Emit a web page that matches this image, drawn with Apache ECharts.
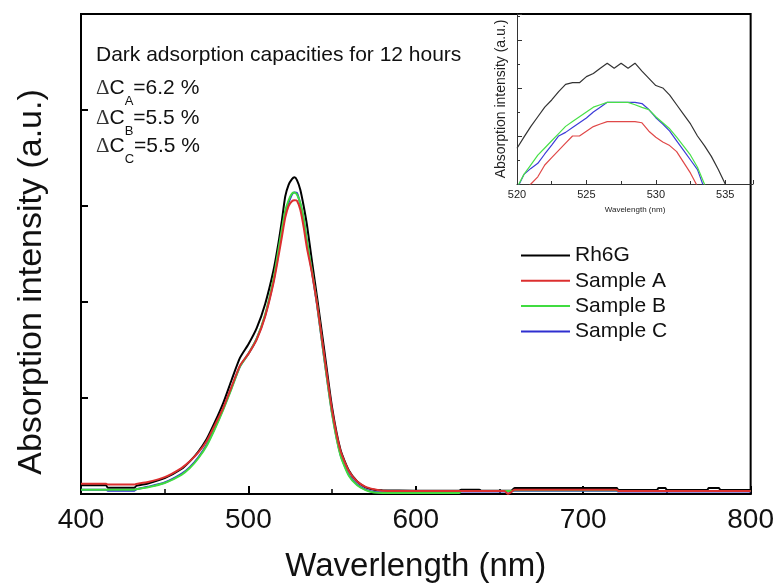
<!DOCTYPE html>
<html><head><meta charset="utf-8">
<script src="https://cdn.jsdelivr.net/npm/echarts@6.0.0/dist/echarts.min.js"></script>
<style>html,body{margin:0;padding:0;background:#fff}#c{width:777px;height:588px}</style>
</head><body><div id="c"></div>
<script>
// ---------- data ----------
const seriesNames = ['Rh6G', 'Sample A', 'Sample B', 'Sample C'];
const mainTickLabels = [400, 500, 600, 700, 800];
const insetTickLabels = [520, 525, 530, 535];

const mainWavelength = [400, 415, 416, 432, 433, 440, 450, 460, 465, 470, 475, 480, 485, 490, 495, 500, 505, 510, 515, 518,
  520, 522, 524, 526, 527.5, 529, 531, 533, 535, 538, 541, 545, 550, 555, 560, 565, 570, 575, 580, 600,
  626, 627, 638, 639, 653, 655, 657, 659, 720, 721, 744, 745, 749, 750, 774, 775, 781, 782, 800];

const rh6gMain = [0.09, 0.09, 0.065, 0.065, 0.085, 0.11, 0.165, 0.26, 0.34, 0.44, 0.57, 0.75, 0.95, 1.19, 1.42, 1.56, 1.73, 1.98, 2.33, 2.62,
  2.85, 3.1, 3.22, 3.28, 3.30, 3.27, 3.17, 3.0, 2.8, 2.42, 2.05, 1.54, 0.9, 0.46, 0.245, 0.13, 0.07, 0.045, 0.038, 0.035,
  0.035, 0.045, 0.045, 0.035, 0.035, 0.035, 0.035, 0.062, 0.062, 0.042, 0.042, 0.062, 0.062, 0.042, 0.042, 0.062, 0.062, 0.042, 0.042];

const sampleAMain = [0.107, 0.107, 0.1, 0.1, 0.105, 0.125, 0.175, 0.27, 0.34, 0.43, 0.55, 0.72, 0.9, 1.12, 1.34, 1.46, 1.61, 1.85, 2.2, 2.48,
  2.68, 2.88, 3.0, 3.05, 3.06, 3.055, 2.96, 2.78, 2.56, 2.3, 1.98, 1.48, 0.87, 0.45, 0.24, 0.13, 0.075, 0.05, 0.035, 0.03,
  0.03, 0.03, 0.03, 0.03, 0.03, 0.0, 0.02, 0.045, 0.045, 0.03, 0.03, 0.03, 0.03, 0.03, 0.03, 0.03, 0.03, 0.03, 0.03];

const sampleBMain = [0.045, 0.045, 0.045, 0.045, 0.05, 0.07, 0.115, 0.2, 0.27, 0.37, 0.5, 0.68, 0.88, 1.1, 1.33, 1.46, 1.62, 1.87, 2.24, 2.55,
  2.76, 2.95, 3.06, 3.13, 3.14, 3.119, 3.03, 2.87, 2.63, 2.32, 1.98, 1.45, 0.83, 0.4, 0.19, 0.09, 0.04, 0.015, 0.01, 0.01,
  0.01, 0.03, 0.03, 0.03, 0.03, 0.03, 0.03, 0.04, 0.04, 0.03, 0.03, 0.03, 0.03, 0.03, 0.03, 0.03, 0.03, 0.03, 0.03];

const sampleCMain = [0.045, 0.045, 0.035, 0.035, 0.05, 0.075, 0.12, 0.21, 0.28, 0.38, 0.51, 0.69, 0.89, 1.11, 1.33, 1.46, 1.62, 1.86, 2.22, 2.52,
  2.73, 2.925, 3.035, 3.12, 3.14, 3.135, 3.02, 2.86, 2.62, 2.31, 1.97, 1.45, 0.84, 0.41, 0.2, 0.1, 0.045, 0.02, 0.015, 0.015,
  0.015, 0.025, 0.025, 0.025, 0.025, 0.025, 0.025, 0.035, 0.035, 0.025, 0.025, 0.025, 0.025, 0.025, 0.025, 0.025, 0.025, 0.025, 0.025];

const insetWavelength = [520, 520.5, 521, 521.5, 522, 522.5, 523, 523.5, 524, 524.5, 525, 525.5, 526, 526.5, 527, 527.5,
  528, 528.5, 529, 529.5, 530, 530.5, 531, 531.5, 532, 532.5, 533, 533.5, 534, 534.5, 535, 535.5, 536];

const rh6gInset = [2.949, 2.995, 3.04, 3.08, 3.12, 3.15, 3.185, 3.215, 3.222, 3.222, 3.247, 3.26, 3.282, 3.303, 3.282, 3.303,
  3.282, 3.303, 3.27, 3.24, 3.21, 3.2, 3.17, 3.13, 3.09, 3.05, 3.0, 2.96, 2.915, 2.86, 2.8, 2.74, 2.68];
const sampleAInset = [2.74, 2.77, 2.80, 2.83, 2.879, 2.91, 2.94, 2.97, 3.0, 3.0, 3.02, 3.039, 3.05, 3.06, 3.06, 3.06,
  3.06, 3.06, 3.055, 3.02, 2.995, 2.975, 2.96, 2.935, 2.89, 2.845, 2.79, 2.73, 2.67, 2.61, 2.55, 2.49, 2.43];
const sampleBInset = [2.785, 2.84, 2.88, 2.92, 2.95, 2.98, 3.01, 3.04, 3.06, 3.08, 3.10, 3.12, 3.13, 3.14, 3.14, 3.14,
  3.14, 3.13, 3.119, 3.11, 3.08, 3.055, 3.03, 2.995, 2.958, 2.92, 2.87, 2.8, 2.72, 2.64, 2.56, 2.48, 2.4];
const sampleCInset = [2.78, 2.84, 2.865, 2.886, 2.925, 2.962, 3.0, 3.015, 3.035, 3.055, 3.075, 3.10, 3.12, 3.14, 3.14, 3.14,
  3.14, 3.14, 3.135, 3.11, 3.076, 3.05, 3.02, 2.98, 2.94, 2.9, 2.86, 2.78, 2.7, 2.62, 2.54, 2.46, 2.38];

// ---------- styling ----------
const FONT = '"Liberation Sans", Arial, sans-serif';
const colors = ['#000000', '#dc2f2f', '#40dc40', '#2f2fd0'];
const insetColors = ['#333333', '#e04848', '#48e048', '#3c3cd8'];
const mainData = [rh6gMain, sampleAMain, sampleBMain, sampleCMain];
const insetData = [rh6gInset, sampleAInset, sampleBInset, sampleCInset];
const drawOrder = [0, 3, 2, 1];
const zip = (xs, ys) => xs.map((x, i) => [x, ys[i]]);

const series = [];
drawOrder.forEach(i => {
  series.push({
    type: 'line', name: seriesNames[i], xAxisIndex: 0, yAxisIndex: 0,
    data: zip(mainWavelength, mainData[i]), symbol: 'none', showSymbol: false,
    smooth: 0.2, lineStyle: { color: colors[i], width: 2 }, itemStyle: { color: colors[i] }
  });
});
drawOrder.forEach(i => {
  series.push({
    type: 'line', name: seriesNames[i], xAxisIndex: 1, yAxisIndex: 1, clip: true,
    data: zip(insetWavelength, insetData[i]), symbol: 'none', showSymbol: false,
    lineStyle: { color: insetColors[i], width: 1.2 }, itemStyle: { color: colors[i] }
  });
});

const subRich = {
  d: { fontFamily: '"Liberation Serif", serif', fontSize: 21, fill: '#333' },
  m: { fontFamily: FONT, fontSize: 21, fill: '#111' },
  s: { fontFamily: FONT, fontSize: 13, fill: '#111', padding: [26, 0, 0, 0] }
};
function deltaLine(sub, val, y) {
  return { type: 'text', x: 96, y: y, style: { text: '{d|Δ}{m|C}{s|' + sub + '}{m|=' + val + '}', rich: subRich, align: 'left', verticalAlign: 'middle' } };
}

const chart = echarts.init(document.getElementById('c'), null, { renderer: 'canvas' });
chart.setOption({
  animation: false,
  backgroundColor: '#fff',
  grid: [
    { left: 81, right: 24, top: 14, bottom: 91, show: true, borderColor: '#000', borderWidth: 2 },
    { left: 517, right: 24, top: 14, bottom: 404, show: false }
  ],
  legend: {
    data: seriesNames, orient: 'vertical', left: 521, top: 245, padding: 0, itemWidth: 49, itemHeight: 2, itemGap: 4.3,
    icon: 'rect', selectedMode: false,
    textStyle: { fontFamily: FONT, fontSize: 21, color: '#111', lineHeight: 21 }
  },
  xAxis: [
    {
      type: 'value', gridIndex: 0, min: mainTickLabels[0], max: mainTickLabels[mainTickLabels.length - 1],
      interval: mainTickLabels[1] - mainTickLabels[0],
      axisLine: { lineStyle: { color: '#000', width: 2 } },
      axisTick: { inside: true, length: 8, lineStyle: { color: '#000', width: 2 } },
      minorTick: { show: true, splitNumber: 2, length: 5, lineStyle: { color: '#000', width: 1.5 } },
      splitLine: { show: false },
      axisLabel: { fontFamily: FONT, fontSize: 28, color: '#111', margin: 12 },
      name: 'Waverlength (nm)', nameLocation: 'middle', nameGap: 56,
      nameTextStyle: { fontFamily: FONT, fontSize: 33, color: '#111' }
    },
    {
      type: 'value', gridIndex: 1, min: insetTickLabels[0], max: 537,
      interval: insetTickLabels[1] - insetTickLabels[0],
      axisLine: { lineStyle: { color: '#333', width: 1 } },
      axisTick: { inside: true, length: 4, lineStyle: { color: '#333', width: 1 } },
      minorTick: { show: true, splitNumber: 2, length: 3, lineStyle: { color: '#333', width: 1 } },
      splitLine: { show: false },
      axisLabel: { fontFamily: FONT, fontSize: 11, color: '#222', margin: 5, showMaxLabel: false },
      name: 'Wavelength (nm)', nameLocation: 'middle', nameGap: 22,
      nameTextStyle: { fontFamily: FONT, fontSize: 8, color: '#222' }
    }
  ],
  yAxis: [
    {
      type: 'value', gridIndex: 0, min: 0, max: 5, interval: 1,
      axisLine: { lineStyle: { color: '#000', width: 2 } },
      axisTick: { inside: true, length: 7, lineStyle: { color: '#000', width: 2 } },
      axisLabel: { show: false }, splitLine: { show: false },
      name: 'Absorption intensity (a.u.)', nameLocation: 'middle', nameGap: 32,
      nameTextStyle: { fontFamily: FONT, fontSize: 34, color: '#111', padding: [0, 56, 0, 0] }
    },
    {
      type: 'value', gridIndex: 1, min: 2.8, max: 3.508, interval: 0.2,
      axisLine: { lineStyle: { color: '#333', width: 1 } },
      axisTick: { inside: true, length: 5, lineStyle: { color: '#333', width: 1 } },
      minorTick: { show: true, splitNumber: 2, length: 3, lineStyle: { color: '#333', width: 1 } },
      axisLabel: { show: false }, splitLine: { show: false },
      name: 'Absorption intensity (a.u.)', nameLocation: 'middle', nameGap: 9,
      nameTextStyle: { fontFamily: FONT, fontSize: 14, color: '#222' }
    }
  ],
  graphic: [
    { type: 'text', x: 96, y: 55, style: { text: 'Dark adsorption capacities for 12 hours', font: '21px ' + FONT, fill: '#111', align: 'left', verticalAlign: 'middle' } },
    deltaLine('A', '6.2 %', 88.5),
    deltaLine('B', '5.5 %', 118),
    deltaLine('C', '5.5 %', 146.5)
  ],
  series: series
});
</script></body></html>
